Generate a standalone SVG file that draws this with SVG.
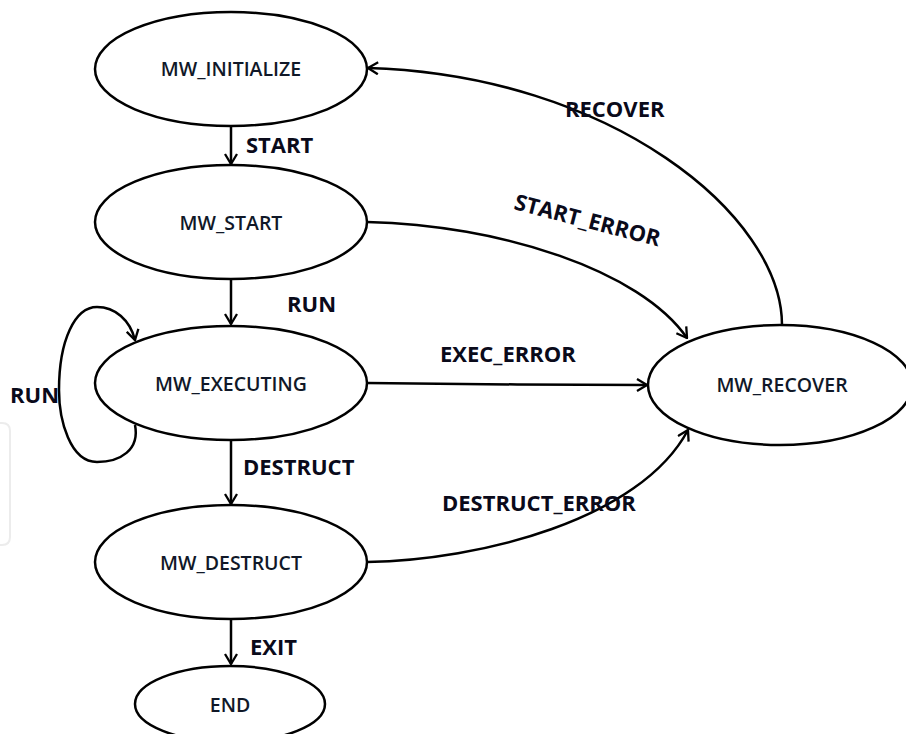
<svg xmlns="http://www.w3.org/2000/svg" width="906" height="734" viewBox="0 0 906 734">
<style>
.node ellipse{fill:#fff;stroke:#000;stroke-width:2.5}
.nt{font-family:"Open Sans","Liberation Sans",sans-serif;font-size:19.5px;font-weight:600;fill:#101828;text-anchor:middle}
.et{font-family:"Open Sans","Liberation Sans",sans-serif;font-size:22px;font-weight:700;fill:#0a0a1a}
.edge{fill:none;stroke:#000;stroke-width:2.5}
</style>
<defs>
<marker id="arr" viewBox="0 0 12 14" refX="11" refY="7" markerWidth="12" markerHeight="14" markerUnits="userSpaceOnUse" orient="auto">
<path d="M1,1 L11,7 L1,13" fill="none" stroke="#000" stroke-width="2.3"/>
</marker>
</defs>
<rect width="906" height="734" fill="#fff"/>
<path d="M0,423 H2 Q10,423 10,431 V537 Q10,545 2,545 H0" fill="none" stroke="#ececec" stroke-width="2"/>
<g id="connectors">
<path class="edge" d="M231,126 V164" marker-end="url(#arr)"/>
<path class="edge" d="M231,279 V324" marker-end="url(#arr)"/>
<path class="edge" d="M231,440 V504" marker-end="url(#arr)"/>
<path class="edge" d="M231,620 V664" marker-end="url(#arr)"/>
<path class="edge" d="M367,383 C450,384 560,385 647,385" marker-end="url(#arr)"/>
<path class="edge" d="M367,222 C500,225 640,270 687,338" marker-end="url(#arr)"/>
<path class="edge" d="M367,562 C480,560 640,520 688,430" marker-end="url(#arr)"/>
<path class="edge" d="M782,325 C782,215 610,75 368,68" marker-end="url(#arr)"/>
<path class="edge" d="M135,425 C140,450 120,462 97,462 C70,462 59,420 59,390 C59,340 75,307 97,307 C115,307 130,320 135,340" marker-end="url(#arr)"/>
<text class="et" x="246" y="153">START</text>
<text class="et" x="287" y="312">RUN</text>
<text class="et" x="10" y="403">RUN</text>
<text class="et" x="243" y="475">DESTRUCT</text>
<text class="et" x="250" y="655">EXIT</text>
<text class="et" x="440" y="362">EXEC_ERROR</text>
<text class="et" x="442" y="511">DESTRUCT_ERROR</text>
<text class="et" x="565" y="117">RECOVER</text>
<text class="et" x="0" y="0" transform="translate(513,209) rotate(14.5)">START_ERROR</text>
</g>
<g id="mw_initialize" class="node"><ellipse cx="231" cy="69" rx="136" ry="57"/><text class="nt" x="231" y="76">MW_INITIALIZE</text></g>
<g id="mw_start" class="node"><ellipse cx="231" cy="222" rx="136" ry="57"/><text class="nt" x="231" y="230">MW_START</text></g>
<g id="mw_executing" class="node"><ellipse cx="231" cy="383" rx="136" ry="57"/><text class="nt" x="231" y="391">MW_EXECUTING</text></g>
<g id="mw_destruct" class="node"><ellipse cx="231" cy="562" rx="136" ry="57"/><text class="nt" x="231" y="570">MW_DESTRUCT</text></g>
<g id="end" class="node"><ellipse cx="230" cy="704" rx="95" ry="38"/><text class="nt" x="230" y="712">END</text></g>
<g id="mw_recover" class="node"><ellipse cx="780" cy="385" rx="132" ry="60"/><text class="nt" x="782" y="392">MW_RECOVER</text></g>
</svg>
